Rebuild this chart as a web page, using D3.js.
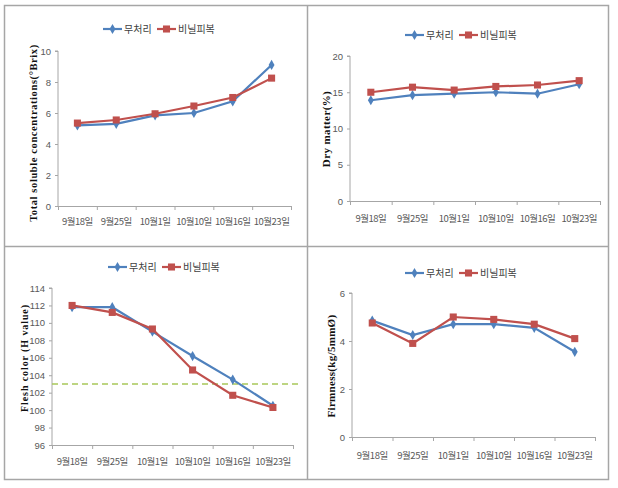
<!DOCTYPE html>
<html><head><meta charset="utf-8">
<script src="https://cdn.jsdelivr.net/npm/d3@7"></script>
<style>body{margin:0;background:#fff}svg{display:block}</style>
</head><body>
<svg id="c" width="618" height="488"></svg>
<script>
const categories = ["9월18일","9월25일","10월1일","10월10일","10월16일","10월23일"];
const seriesNames = ["무처리","비닐피복"];
const brixControl = [5.2,5.3,5.85,6.0,6.75,9.1];
const brixVinyl = [5.35,5.55,5.95,6.45,7.0,8.25];
const dryControl = [13.9,14.6,14.8,15.0,14.8,16.1];
const dryVinyl = [15.0,15.7,15.3,15.8,16.0,16.6];
const colorControl = [111.8,111.8,109.0,106.2,103.5,100.5];
const colorVinyl = [112.0,111.2,109.3,104.6,101.7,100.3];
const firmControl = [4.85,4.25,4.7,4.7,4.55,3.55];
const firmVinyl = [4.75,3.9,5.0,4.9,4.7,4.1];
const brixTicks = [0,2,4,6,8,10];
const dryTicks = [0,5,10,15,20];
const colorTicks = [96,98,100,102,104,106,108,110,112,114];
const firmTicks = [0,2,4,6];
const colorRefLine = 103;

const svg = d3.select("#c");
const BLUE="#4F81BD", RED="#C0504D";

// frame
svg.append("rect").attr("x",4.5).attr("y",5.5).attr("width",604).attr("height",474)
  .attr("fill","none").attr("stroke","#a6a6a6").attr("stroke-width",1.5);
svg.append("line").attr("x1",307.5).attr("x2",307.5).attr("y1",5).attr("y2",480).attr("stroke","#a6a6a6").attr("stroke-width",1.5);
svg.append("line").attr("x1",4).attr("x2",609).attr("y1",246.5).attr("y2",246.5).attr("stroke","#a6a6a6").attr("stroke-width",1.5);

const panels = [
  {x0:58,x1:291,yTop:51,yBot:206,dom:[0,10],ticks:brixTicks,a:brixControl,b:brixVinyl,
   title:"Total soluble concentrations(°Brix)",tx:33,ty:133,fs:10.5,ls:0.6,legY:29,legX:103,labY:222},
  {x0:350,x1:600,yTop:56,yBot:201,dom:[0,20],ticks:dryTicks,a:dryControl,b:dryVinyl,
   title:"Dry matter(%)",tx:326,ty:129,fs:11,ls:0.4,legY:35,legX:405,labY:219},
  {x0:52,x1:293,yTop:288,yBot:445,dom:[96,114],ticks:colorTicks,a:colorControl,b:colorVinyl,
   title:"Flesh color (H value)",tx:24,ty:358,fs:10,ls:0.9,legY:267,legX:108,labY:462,ref:colorRefLine},
  {x0:352,x1:595,yTop:293,yBot:437,dom:[0,6],ticks:firmTicks,a:firmControl,b:firmVinyl,
   title:"Firmness(kg/5mmØ)",tx:331,ty:366,fs:11,ls:0.3,legY:273,legX:405,labY:456}
];

const diamond = d3.symbol().type(d3.symbolDiamond).size(30);
const square = d3.symbol().type(d3.symbolSquare).size(50);

panels.forEach(p=>{
  const g = svg.append("g");
  const x = d3.scaleBand().domain(categories).range([p.x0,p.x1]);
  const y = d3.scaleLinear().domain(p.dom).range([p.yBot,p.yTop]);
  // y axis
  const ya = g.append("g").attr("transform",`translate(${p.x0},0)`)
    .call(d3.axisLeft(y).tickValues(p.ticks).tickFormat(d3.format("d")).tickSize(3).tickPadding(4));
  ya.select(".domain").attr("stroke","#a6a6a6").attr("d",`M-3,${y(p.dom[1])}H0V${y(p.dom[0])}`);
  ya.selectAll(".tick line").attr("stroke","#a6a6a6");
  ya.selectAll("text").attr("fill","#595959").attr("font-family","'Liberation Sans',Arial,sans-serif").attr("font-size",9.5);
  // x axis
  const xa = g.append("g").attr("transform",`translate(0,${p.yBot})`)
    .call(d3.axisBottom(x).tickSize(0).tickPadding(0));
  xa.select(".domain").attr("stroke","#a6a6a6");
  xa.selectAll(".tick text").attr("y",p.labY-p.yBot).attr("dy","0.35em").attr("fill","#595959")
    .attr("font-family","'Noto Sans CJK KR',sans-serif").attr("font-size",9.5).attr("letter-spacing",-0.5);
  const bounds = categories.map(c=>x(c)).concat([p.x1]);
  g.selectAll("line.xt").data(bounds).join("line").attr("class","xt")
    .attr("x1",d=>d+0.5).attr("x2",d=>d+0.5).attr("y1",p.yBot).attr("y2",p.yBot+4).attr("stroke","#a6a6a6");
  // ref line
  if(p.ref!==undefined){
    g.append("line").attr("x1",p.x0).attr("x2",p.x1+5).attr("y1",y(p.ref)).attr("y2",y(p.ref))
      .attr("stroke","#A8C85A").attr("stroke-width",1.5).attr("stroke-dasharray","6,4");
  }
  // title
  g.append("text").attr("transform",`translate(${p.tx},${p.ty}) rotate(-90)`)
    .attr("text-anchor","middle").attr("dy","0.35em")
    .attr("font-family","'Liberation Serif','Times New Roman',serif").attr("font-weight","bold")
    .attr("font-size",p.fs).attr("letter-spacing",p.ls).attr("fill","#111").text(p.title);
  const cx = c=>x(c)+x.bandwidth()/2;
  const line = d3.line().x((d,i)=>cx(categories[i])).y(d=>y(d));
  [[p.a,BLUE,diamond],[p.b,RED,square]].forEach(([vals,col,sym])=>{
    g.append("path").attr("d",line(vals)).attr("fill","none").attr("stroke",col).attr("stroke-width",2.2);
    g.selectAll(null).data(vals).join("path").attr("d",sym)
      .attr("transform",(d,i)=>`translate(${cx(categories[i])},${y(d)})`).attr("fill",col);
  });
  // legend
  const lg = g.append("g").attr("transform",`translate(${p.legX},${p.legY})`);
  [[BLUE,diamond,0,seriesNames[0]],[RED,square,54,seriesNames[1]]].forEach(([col,sym,off,name])=>{
    lg.append("line").attr("x1",off).attr("x2",off+19).attr("y1",0).attr("y2",0).attr("stroke",col).attr("stroke-width",2.2);
    lg.append("path").attr("d",sym).attr("transform",`translate(${off+9.5},0)`).attr("fill",col);
    lg.append("text").attr("x",off+21).attr("dy","0.35em").attr("font-family","'Noto Sans CJK KR',sans-serif")
      .attr("font-size",10).attr("fill","#404040").text(name);
  });
});
</script>
</body></html>
